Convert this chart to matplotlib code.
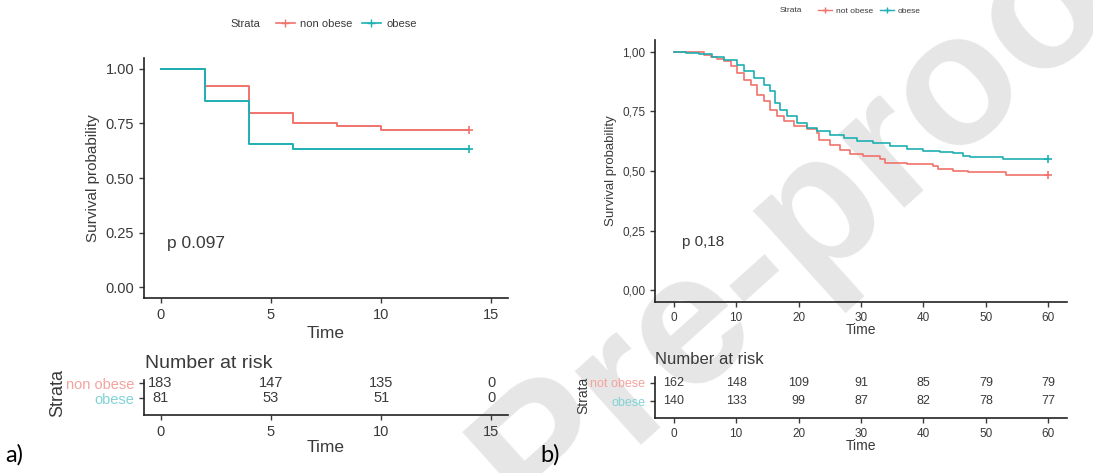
import numpy as np
import matplotlib.pyplot as plt
from matplotlib.lines import Line2D

plt.rcParams['font.family'] = ['Liberation Sans', 'DejaVu Sans']

# ---- data ----
# panel a
a_t_non = [0, 2, 4, 6, 8, 10, 14]
a_s_non = [1.0, 0.92, 0.80, 0.75, 0.74, 0.722, 0.722]
a_t_ob = [0, 2, 4, 6, 14]
a_s_ob = [1.0, 0.853, 0.656, 0.632, 0.632]
a_risk_times = [0, 5, 10, 15]
a_risk_non = [183, 147, 135, 0]
a_risk_ob = [81, 53, 51, 0]
a_xticks = [0, 5, 10, 15]

# panel b
b_t_ob = [0, 2, 4, 6.1, 8, 10.1, 11.2, 12.8, 14.4, 15.5, 16.3, 17.1, 18.1, 19.7, 21.3,
          22.9, 25, 27.2, 29.3, 32, 34.7, 37.3, 40, 42.7, 44.8, 46.4, 47.5, 52.8, 60]
b_s_ob = [1.0, 0.995, 0.99, 0.98, 0.968, 0.947, 0.919, 0.89, 0.863, 0.835, 0.785, 0.757,
          0.729, 0.70, 0.68, 0.666, 0.652, 0.638, 0.624, 0.617, 0.603, 0.592, 0.586, 0.579,
          0.575, 0.564, 0.558, 0.55, 0.55]
b_t_non = [0, 4.8, 5.9, 6.9, 8, 9.1, 10.1, 11.2, 12.3, 13.3, 14.4, 15.5, 16.5, 17.6, 19.2,
           21.3, 22.9, 23.2, 25, 26.7, 28.3, 30.4, 33.1, 33.9, 37.3, 41.6, 42.4, 44.8, 47.2,
           53.3, 60]
b_s_non = [1.0, 0.989, 0.979, 0.97, 0.961, 0.94, 0.912, 0.884, 0.863, 0.82, 0.792, 0.757,
           0.729, 0.708, 0.687, 0.676, 0.659, 0.631, 0.61, 0.589, 0.572, 0.561, 0.55, 0.533,
           0.529, 0.519, 0.508, 0.502, 0.494, 0.484, 0.484]
b_risk_times = [0, 10, 20, 30, 40, 50, 60]
b_risk_non = [162, 148, 109, 91, 85, 79, 79]
b_risk_ob = [140, 133, 99, 87, 82, 78, 77]
b_xticks = [0, 10, 20, 30, 40, 50, 60]

yticks = [0, 0.25, 0.5, 0.75, 1.0]

RED = '#F0736B'
TEAL = '#1DAFB2'
TXT = '#3a3a3a'

W, H = 1093, 473
fig = plt.figure(figsize=(W / 100, H / 100), dpi=100)


def box(l, t, r, b):
    return [l / W, 1 - b / H, (r - l) / W, (b - t) / H]


# watermark, drawn under the axes
fig.text(818 / W, 1 - 210 / H, 'Pre-proof', rotation=42, fontsize=135, color='#e6e6e6',
         ha='center', va='center', fontweight='bold', zorder=-10)


def style(ax, fs):
    ax.set_facecolor('none')
    for s in ['top', 'right']:
        ax.spines[s].set_visible(False)
    for s in ['left', 'bottom']:
        ax.spines[s].set_linewidth(1.2)
        ax.spines[s].set_color('#222222')
    ax.tick_params(labelsize=fs, colors=TXT, length=3.5, width=1)


def survival(ax, t_non, s_non, t_ob, s_ob, xmax, xticks, fs, lw, ptxt, pxy, ylab_fs, fmt):
    ax.step(t_non, s_non, where='post', color=RED, lw=lw)
    ax.step(t_ob, s_ob, where='post', color=TEAL, lw=lw)
    ax.plot(t_non[-1], s_non[-1], marker='+', color=RED, ms=6, mew=1.2)
    ax.plot(t_ob[-1], s_ob[-1], marker='+', color=TEAL, ms=6, mew=1.2)
    ax.set_xlim(-0.05 * xmax, 1.05 * xmax)
    ax.set_ylim(-0.05, 1.05)
    ax.set_xticks(xticks)
    ax.set_yticks(yticks)
    ax.set_yticklabels([fmt(v) for v in yticks])
    ax.set_ylabel('Survival probability', fontsize=ylab_fs, color=TXT)
    ax.text(pxy[0], pxy[1], ptxt, fontsize=ylab_fs + 1.5, color=TXT, va='center')
    style(ax, fs)


def risk(ax, times, non, ob, xmax, xticks, fs, numfs, names, ylim):
    for x, n1, n2 in zip(times, non, ob):
        ax.text(x, 2, str(n1), ha='center', va='center', fontsize=numfs, color=TXT)
        ax.text(x, 1, str(n2), ha='center', va='center', fontsize=numfs, color=TXT)
    ax.set_xlim(-0.05 * xmax, 1.05 * xmax)
    ax.set_ylim(*ylim)
    ax.set_xticks(xticks)
    ax.set_yticks([2, 1])
    style(ax, fs)
    ax.set_yticklabels(names, fontsize=numfs)
    labs = ax.get_yticklabels()
    labs[0].set_color('#F4A39D')
    labs[1].set_color('#7FD3D5')


# ---- panel a ----
ax1 = fig.add_axes(box(144, 58, 508, 298))
survival(ax1, a_t_non, a_s_non, a_t_ob, a_s_ob, 15, a_xticks, 10.5, 1.4, 'p 0.097', (0.3, 0.2),
         11, lambda v: f'{v:.2f}')
fig.text(326 / W, 1 - 333 / H, 'Time', fontsize=12.5, color=TXT, ha='center', va='center')

ax2 = fig.add_axes(box(144, 380, 508, 415))
risk(ax2, a_risk_times, a_risk_non, a_risk_ob, 15, a_xticks, 10.5, 10.5,
     ['non obese', 'obese'], (-0.13, 2.2))
fig.text(145 / W, 1 - 363 / H, 'Number at risk', fontsize=14, color=TXT, va='center')
fig.text(326 / W, 1 - 447 / H, 'Time', fontsize=12.5, color=TXT, ha='center', va='center')
fig.text(58 / W, 1 - 393 / H, 'Strata', fontsize=13, color=TXT, rotation=90,
         ha='center', va='center')
fig.text(5 / W, 1 - 455 / H, 'a)', fontsize=17, family='Lato', color='black', va='center')

# legend a
fig.text(230 / W, 1 - 24 / H, 'Strata', fontsize=8, color=TXT, va='center')
leg_a = [Line2D([], [], color=RED, marker='+', lw=1.2, ms=6),
         Line2D([], [], color=TEAL, marker='+', lw=1.2, ms=6)]
fig.legend(leg_a, ['non obese', 'obese'], ncol=2, frameon=False, fontsize=8,
           loc='center left', bbox_to_anchor=(266 / W, 1 - 24 / H), handlelength=1.7,
           handletextpad=0.5, columnspacing=0.8, labelcolor=TXT)

# ---- panel b ----
ax3 = fig.add_axes(box(655, 40, 1067, 302))
survival(ax3, b_t_non, b_s_non, b_t_ob, b_s_ob, 60, b_xticks, 8.5, 1.2, 'p 0,18', (1.4, 0.2),
         9.5, lambda v: f'{v:.2f}'.replace('.', ','))
fig.text(861 / W, 1 - 330 / H, 'Time', fontsize=10, color=TXT, ha='center', va='center')

ax4 = fig.add_axes(box(655, 377, 1067, 418))
risk(ax4, b_risk_times, b_risk_non, b_risk_ob, 60, b_xticks, 8.5, 9,
     ['not obese', 'obese'], (0.06, 2.33))
fig.text(655 / W, 1 - 359 / H, 'Number at risk', fontsize=12, color=TXT, va='center')
fig.text(861 / W, 1 - 446 / H, 'Time', fontsize=10, color=TXT, ha='center', va='center')
fig.text(583 / W, 1 - 395 / H, 'Strata', fontsize=10, color=TXT, rotation=90,
         ha='center', va='center')
fig.text(540 / W, 1 - 455 / H, 'b)', fontsize=17, family='Lato', color='black', va='center')

# legend b
fig.text(780 / W, 1 - 11 / H, 'Strata', fontsize=6, color=TXT, va='center')
leg_b = [Line2D([], [], color=RED, marker='+', lw=1, ms=4),
         Line2D([], [], color=TEAL, marker='+', lw=1, ms=4)]
fig.legend(leg_b, ['not obese', 'obese'], ncol=2, frameon=False, fontsize=6,
           loc='center left', bbox_to_anchor=(810 / W, 1 - 11 / H), handlelength=1.7,
           handletextpad=0.5, columnspacing=0.8, labelcolor=TXT)

fig.savefig('out.png', dpi=100)
